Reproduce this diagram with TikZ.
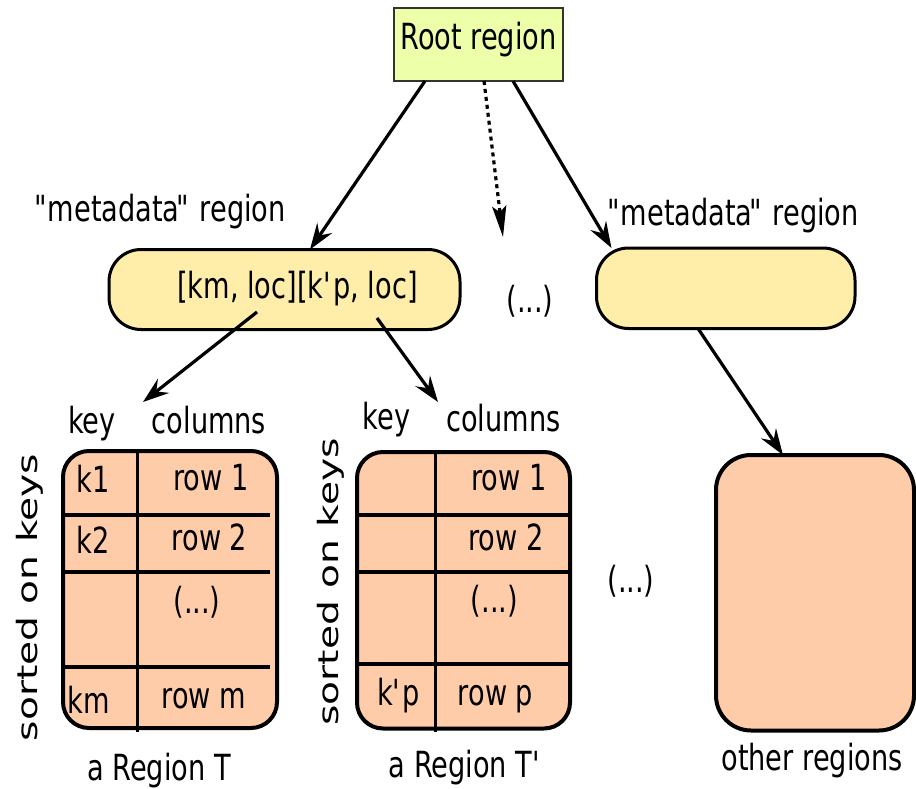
\documentclass[tikz,border=0pt]{standalone}
\usepackage{fontspec}
\setmainfont{DejaVu Sans}[FakeStretch=0.755]
\newfontfamily\sidefont{DejaVu Sans}[FakeStretch=1.4]
\usetikzlibrary{arrows.meta}
\definecolor{rootfill}{RGB}{238,255,170}
\definecolor{rootline}{RGB}{51,51,51}
\definecolor{metafill}{RGB}{255,238,170}
\definecolor{regfill}{RGB}{255,204,170}
\newcommand{\apos}{\textquotesingle}
\newcommand{\quoted}[1]{\textquotedbl\kern-3pt#1\kern-3pt\textquotedbl\kern-2pt\relax}
\tikzset{
  lbl/.style={anchor=base, inner sep=0pt, font=\fontsize{36}{40}\selectfont},
  sidelbl/.style={rotate=90, inner sep=0pt, font=\sidefont\fontsize{28}{32}\selectfont},
  rootbox/.style={draw=rootline, line width=2pt, fill=rootfill, outer sep=0pt, inner sep=0pt,
    font=\fontsize{36}{40}\selectfont, text height=22pt, text depth=11pt},
  metabox/.style={draw=black, line width=3pt, fill=metafill, rounded corners=32pt, outer sep=0pt, inner sep=0pt},
  regbox/.style={draw=black, line width=4pt, fill=regfill, rounded corners=26pt, outer sep=0pt, inner sep=0pt},
  rowline/.style={line width=4pt},
  colline/.style={line width=3pt},
  link/.style={line width=3.2pt, -{Stealth[length=26pt,width=18pt,inset=9pt]}},
  hint/.style={line width=3.2pt, dash pattern=on 4pt off 4pt, -{Stealth[length=31pt,width=14pt,inset=6pt]}},
}
\begin{document}
\begin{tikzpicture}[x=1pt,y=-1pt]
\useasboundingbox (0,0) rectangle (916,789);

% root of the lookup tree
\node[rootbox, minimum width=169pt, minimum height=73pt] (root) at (478.5,44.5) {Root region};

% metadata regions
\node[metabox, minimum width=351pt, minimum height=80pt] (metaL) at (284.5,289.5) {};
\node[metabox, minimum width=258.5pt, minimum height=80.5pt] (metaR) at (725.75,288.25) {};
\node[lbl] (metaLname) at (160,222) {\quoted{metadata} region};
\node[lbl] (metaRname) at (733,225) {\quoted{metadata} region};
\node[lbl] (metaLtext) at (297.5,298) {[km, loc][k\apos p, loc]};
\node[lbl] (metadots) at (530,312) {(...)};

% user regions
\node[regbox, minimum width=214pt, minimum height=277pt] (tabA) at (170,589.5) {};
\node[regbox, minimum width=213pt, minimum height=276.5pt] (tabB) at (463.5,590.25) {};
\node[regbox, minimum width=198pt, minimum height=275.5pt, rounded corners=35pt] (other) at (815,592.75) {};

% grid of region T
\draw[colline] (137,451) -- (137,732);
\draw[rowline] (63,515) -- (270,515);
\draw[rowline] (63,572) -- (270,572);
\draw[rowline] (63,667) -- (270,667);
% grid of region T'
\draw[colline] (435,452) -- (435,732);
\draw[rowline] (359,515) -- (568,515);
\draw[rowline] (359,572) -- (568,572);
\draw[rowline] (359,664) -- (568,664);

% labels of region T
\node[lbl] (keyA) at (92,433) {key};
\node[lbl] (colA) at (209,433) {columns};
\node[lbl] (k1) at (93,492) {k1};
\node[lbl] (r1A) at (211,490) {row 1};
\node[lbl] (k2) at (93,553) {k2};
\node[lbl] (r2A) at (209.5,550) {row 2};
\node[lbl] (dotsA) at (197,613) {(...)};
\node[lbl] (km) at (89,713) {km};
\node[lbl] (rmA) at (204,708) {row m};
\node[lbl] (nameA) at (159,780) {a Region T};
\node[sidelbl] (sortA) at (30,597.5) {sorted on keys};

% labels of region T'
\node[lbl] (keyB) at (386.5,429) {key};
\node[lbl] (colB) at (503.5,431) {columns};
\node[lbl] (r1B) at (509,490) {row 1};
\node[lbl] (r2B) at (506,550) {row 2};
\node[lbl] (dotsB) at (494.5,612) {(...)};
\node[lbl] (kp) at (398.5,705) {k\apos p};
\node[lbl] (rpB) at (495.5,705) {row p};
\node[lbl] (nameB) at (465.5,777) {a Region T\apos};
\node[sidelbl] (sortB) at (331,582) {sorted on keys};

\node[lbl] (middots) at (631,592) {(...)};
\node[lbl] (othername) at (812,770) {other regions};

% links between levels
\coordinate (dotend) at (503,237);
\coordinate (tipA) at (143,402);
\coordinate (tipB) at (438,402);
\draw[link] ([xshift=31pt]root.south west) -- ([xshift=201pt]metaL.north west);
\draw[hint] ([xshift=90pt]root.south west) -- (dotend);
\draw[link] ([xshift=119pt]root.south west) -- ([xshift=15pt]metaR.north west);
\draw[link] ([xshift=148pt,yshift=17.5pt]metaL.south west) -- (tipA);
\draw[link] ([xshift=268pt,yshift=11.5pt]metaL.south west) -- (tipB);
\draw[link] ([xshift=101.5pt]metaR.south west) -- ([xshift=67pt]other.north west);
\end{tikzpicture}
\end{document}
